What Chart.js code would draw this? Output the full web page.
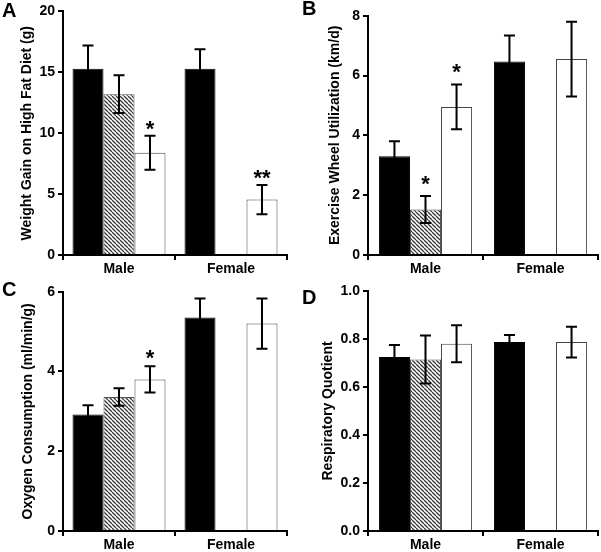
<!DOCTYPE html>
<html><head><meta charset="utf-8">
<script src="https://cdn.jsdelivr.net/npm/chart.js@4/dist/chart.umd.min.js"></script>
<style>
html,body{margin:0;padding:0;background:#fff;}
#wrap{position:relative;width:601px;height:552px;overflow:hidden;background:#fff;}
canvas{position:absolute;}
</style></head><body>
<div id="wrap">
<canvas id="cA" width="300" height="285" style="left:0px;top:0px"></canvas>
<canvas id="cB" width="301" height="285" style="left:300px;top:0px"></canvas>
<canvas id="cC" width="300" height="276" style="left:0px;top:276px"></canvas>
<canvas id="cD" width="301" height="276" style="left:300px;top:276px"></canvas>
</div>
<script>
// ---- data ----
const categories = ['Male', 'Female'];

// Panel A: Weight gain on high fat diet (g)
const aTicks = [0, 5, 10, 15, 20];
const aBlack = [15.3, 15.3];   const aBlackErr = [1.9, 1.6];
const aHatch = [13.2, null];   const aHatchErr = [1.55, null];
const aWhite = [8.4, 4.55];    const aWhiteErr = [1.4, 1.2];
const aSigHatch = ['', ''];    const aSigWhite = ['*', '**'];

// Panel B: Exercise wheel utilization (km/d)
const bTicks = [0, 2, 4, 6, 8];
const bBlack = [3.3, 6.47];    const bBlackErr = [0.5, 0.87];
const bHatch = [1.52, null];   const bHatchErr = [0.45, null];
const bWhite = [4.95, 6.55];   const bWhiteErr = [0.75, 1.25];
const bSigHatch = ['*', ''];   const bSigWhite = ['*', ''];

// Panel C: Oxygen consumption (ml/min/g)
const cTicks = [0, 2, 4, 6];
const cBlack = [2.92, 5.35];   const cBlackErr = [0.23, 0.48];
const cHatch = [3.36, null];   const cHatchErr = [0.22, null];
const cWhite = [3.8, 5.2];     const cWhiteErr = [0.33, 0.63];
const cSigHatch = ['', ''];    const cSigWhite = ['*', ''];

// Panel D: Respiratory quotient
const dTicks = [0, 0.2, 0.4, 0.6, 0.8, 1.0];
const dBlack = [0.725, 0.787]; const dBlackErr = [0.05, 0.03];
const dHatch = [0.715, null];  const dHatchErr = [0.10, null];
const dWhite = [0.78, 0.787];  const dWhiteErr = [0.077, 0.064];
const dSigHatch = ['', ''];    const dSigWhite = ['', ''];

// ---- styling ----
const FONT = '"Liberation Sans", Arial, Helvetica, sans-serif';
Chart.defaults.font.family = FONT;
Chart.defaults.font.weight = 'bold';
Chart.defaults.font.size = 14;
Chart.defaults.color = '#000';

function makeHatch() {
  const t = document.createElement('canvas');
  t.width = 4; t.height = 4;
  const c = t.getContext('2d');
  c.fillStyle = '#ffffff'; c.fillRect(0, 0, 4, 4);
  c.strokeStyle = '#3a3a3a'; c.lineWidth = 1.3;
  for (const k of [-4, 0, 4]) { c.beginPath(); c.moveTo(k, 0); c.lineTo(k + 4, 4); c.stroke(); }
  return t;
}

const errPlugin = {
  id: 'errbars',
  afterDatasetsDraw(chart, args, opts) {
    const ctx = chart.ctx, ys = chart.scales.y;
    chart.data.datasets.forEach((ds, di) => {
      const meta = chart.getDatasetMeta(di);
      meta.data.forEach((el, i) => {
        const v = ds.data[i], e = ds.err ? ds.err[i] : null;
        if (v == null || e == null) return;
        const x = el.x;
        const yt = ys.getPixelForValue(v + e), yb = ys.getPixelForValue(v - e);
        ctx.save();
        ctx.strokeStyle = '#000'; ctx.lineWidth = 2;
        ctx.beginPath();
        ctx.moveTo(x, yt); ctx.lineTo(x, yb);
        ctx.moveTo(x - 5.5, yt); ctx.lineTo(x + 5.5, yt);
        ctx.moveTo(x - 5.5, yb); ctx.lineTo(x + 5.5, yb);
        ctx.stroke();
        const s = ds.sig ? ds.sig[i] : '';
        if (s) {
          ctx.fillStyle = '#000';
          ctx.font = 'bold 22px ' + FONT;
          ctx.textAlign = 'center'; ctx.textBaseline = 'alphabetic';
          ctx.fillText(s, x, yt - opts.starGap + 13);
        }
        ctx.restore();
      });
    });
  },
  afterDraw(chart, args, opts) {
    const ctx = chart.ctx;
    ctx.save();
    ctx.fillStyle = '#000';
    ctx.font = 'bold 20px ' + FONT;
    ctx.textAlign = 'left'; ctx.textBaseline = 'alphabetic';
    ctx.fillText(opts.letter, opts.lx, opts.ly);
    ctx.restore();
  }
};

function makePanel(id, cfg) {
  const hatch = document.getElementById(id).getContext('2d').createPattern(makeHatch(), 'repeat');
  const canvas = document.getElementById(id);
  const H = canvas.height;
  const ticks = cfg.ticks;
  return new Chart(canvas, {
    type: 'bar',
    data: {
      labels: categories,
      datasets: [
        { data: cfg.black, err: cfg.blackErr, backgroundColor: '#000', borderColor: '#000', borderWidth: 1 },
        { data: cfg.hatch, err: cfg.hatchErr, sig: cfg.sigHatch, backgroundColor: hatch, borderColor: '#555', borderWidth: 1 },
        { data: cfg.white, err: cfg.whiteErr, sig: cfg.sigWhite, backgroundColor: '#fff', borderColor: '#444', borderWidth: 1 }
      ]
    },
    options: {
      responsive: false,
      animation: false,
      events: [],
      categoryPercentage: cfg.catPct,
      barPercentage: 1.0,
      layout: { padding: { left: cfg.padLeft, right: canvas.width - cfg.right, top: cfg.top, bottom: 0 } },
      plugins: {
        legend: { display: false },
        tooltip: { enabled: false },
        errbars: { letter: cfg.letter, lx: cfg.lx, ly: cfg.ly, starGap: cfg.starGap }
      },
      scales: {
        x: {
          grid: { display: true, offset: true, drawOnChartArea: false, drawTicks: true, tickLength: 5, color: '#000', lineWidth: 2 },
          border: { display: true, color: '#000', width: 2 },
          ticks: { padding: 1, font: { size: 14, weight: 'bold' }, color: '#000', maxRotation: 0 },
          afterFit: (s) => { s.height = H - 255; }
        },
        y: {
          min: ticks[0], max: ticks[ticks.length - 1],
          grid: { display: true, drawOnChartArea: false, drawTicks: true, tickLength: 5, color: '#000', lineWidth: 2 },
          border: { display: true, color: '#000', width: 2 },
          ticks: { padding: 3, font: { size: 14, weight: 'bold' }, color: '#000',
                   callback: (v) => cfg.decimals ? Number(v).toFixed(cfg.decimals) : String(v) },
          afterBuildTicks: (s) => { s.ticks = ticks.map(v => ({ value: v })); },
          title: { display: true, text: cfg.title, font: { size: 14, weight: 'bold' }, color: '#000', padding: { top: 0, bottom: 0 } },
          afterFit: (s) => { s.width = cfg.left - cfg.padLeft; }
        }
      }
    },
    plugins: [errPlugin]
  });
}

makePanel('cA', { letter: 'A', lx: 2, ly: 17, starGap: 13, title: 'Weight Gain on High Fat Diet (g)',
  ticks: aTicks, black: aBlack, blackErr: aBlackErr, hatch: aHatch, hatchErr: aHatchErr, white: aWhite, whiteErr: aWhiteErr,
  sigHatch: aSigHatch, sigWhite: aSigWhite, catPct: 0.83, padLeft: 18.6, left: 63, right: 287, top: 9.5, decimals: 0 });
makePanel('cB', { letter: 'B', lx: 2, ly: 15, starGap: 18, title: 'Exercise Wheel Utilization (km/d)',
  ticks: bTicks, black: bBlack, blackErr: bBlackErr, hatch: bHatch, hatchErr: bHatchErr, white: bWhite, whiteErr: bWhiteErr,
  sigHatch: bSigHatch, sigWhite: bSigWhite, catPct: 0.81, padLeft: 26.6, left: 68, right: 298, top: 15.7, decimals: 0 });
makePanel('cC', { letter: 'C', lx: 2, ly: 20, starGap: 14, title: 'Oxygen Consumption (ml/min/g)',
  ticks: cTicks, black: cBlack, blackErr: cBlackErr, hatch: cHatch, hatchErr: cHatchErr, white: cWhite, whiteErr: cWhiteErr,
  sigHatch: cSigHatch, sigWhite: cSigWhite, catPct: 0.83, padLeft: 19.6, left: 63, right: 287, top: 15.7, decimals: 0 });
makePanel('cD', { letter: 'D', lx: 2, ly: 28, starGap: 14, title: 'Respiratory Quotient',
  ticks: dTicks, black: dBlack, blackErr: dBlackErr, hatch: dHatch, hatchErr: dHatchErr, white: dWhite, whiteErr: dWhiteErr,
  sigHatch: dSigHatch, sigWhite: dSigWhite, catPct: 0.81, padLeft: 19.6, left: 68, right: 298, top: 15, decimals: 1 });
</script>
</body></html>
